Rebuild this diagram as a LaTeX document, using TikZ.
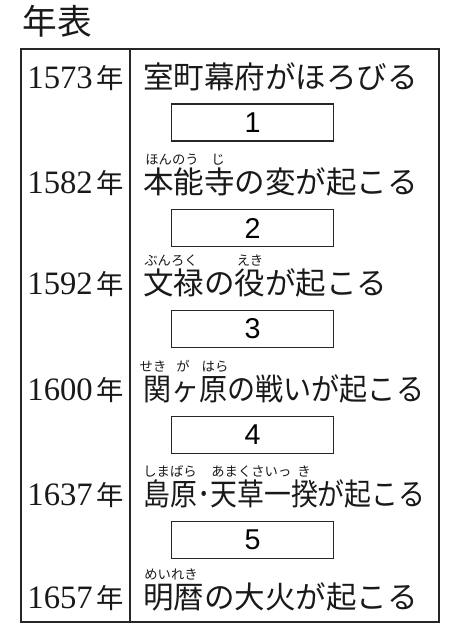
\documentclass[tikz,border=0pt]{standalone}
\usepackage{fontspec}
\usepackage{graphicx}
\newfontfamily\jpfont{Noto Sans CJK JP}
\newfontfamily\numfont{Liberation Sans}
\newfontfamily\yearfont{Liberation Serif}
\usetikzlibrary{positioning}
% year label: serif digits followed by a smaller kanji
\newcommand{\nen}[1]{{\yearfont\fontsize{24.5}{25}\selectfont #1}\hspace{2.5pt}{\jpfont\fontsize{20.5}{21}\selectfont 年}}
\tikzset{
  frame/.style={draw=black!85, line width=1.1pt},
  event/.style={anchor=base west, inner sep=0pt, text=black!90,
    font=\jpfont\fontsize{22.9}{24}\selectfont},
  ruby/.style={anchor=base, inner sep=0pt, text=black!90,
    font=\jpfont\fontsize{10}{10}\selectfont},
  yearlabel/.style={anchor=base, inner sep=0pt, text=black!90},
  blank/.style={draw=black!85, line width=1.1pt, inner sep=0pt,
    minimum width=121.5pt, minimum height=27.75pt,
    font=\numfont\fontsize{21.5}{22}\selectfont}
}

\begin{document}
\begin{tikzpicture}[x=0.75pt, y=-0.75pt]
  \useasboundingbox (0,0) rectangle (455,640);

  % title
  \node[inner sep=0pt, text=black!90, font=\jpfont\fontsize{26}{26}\selectfont]
    (title) at (57,21) {年表};

  % table frame
  \draw[frame] (21,49) rectangle (439,622);
  \draw[frame] (130,49) -- (130,622);

  % years
  \foreach \yr/\yb [count=\i] in {1573/88, 1582/193.5, 1592/294.5,
                                   1600/400.5, 1637/505.5, 1657/608.5}
    \node[yearlabel] (y\i) at (75.5,\yb) {\nen{\yr}};

  % events
  \node[event] (e1) at (143,88) {室町幕府がほろびる};
  \node[event] (e2) at (143,193.5) {本能寺の変が起こる};
  \node[event] (e3) at (143,294.5) {文禄の役が起こる};
  \node[event] (e4) at (143,400.5) {\scalebox{0.92}[1]{関ヶ原の戦いが起こる}};
  \node[event] (e5) at (143,505.5) {\scalebox{0.88}[1]{島原･天草一揆が起こる}};
  \node[event] (e6) at (143,608.5) {明暦の大火が起こる};

  % readings
  \node[ruby] (r2a) at (172,164.5) {ほんのう};
  \node[ruby] (r2b) at (218,164.5) {じ};
  \node[ruby] (r3a) at (171,265.5) {ぶんろく};
  \node[ruby] (r3b) at (250,265.5) {えき};
  \node[ruby] (r4a) at (153,371.5) {せき};
  \node[ruby] (r4b) at (183,371.5) {が};
  \node[ruby] (r4c) at (215,371.5) {はら};
  \node[ruby] (r5a) at (170,476.5) {しまばら};
  \node[ruby] (r5b) at (238,476.5) {あまくさ};
  \node[ruby] (r5c) at (278,476.5) {いっ};
  \node[ruby] (r5d) at (304,476.5) {き};
  \node[ruby] (r6a) at (171,579.5) {めいれき};

  % answer boxes
  \foreach \by [count=\i] in {122.5, 228, 329, 435, 540}
    \node[blank] (b\i) at (252.5,\by) {\i};
\end{tikzpicture}
\end{document}
